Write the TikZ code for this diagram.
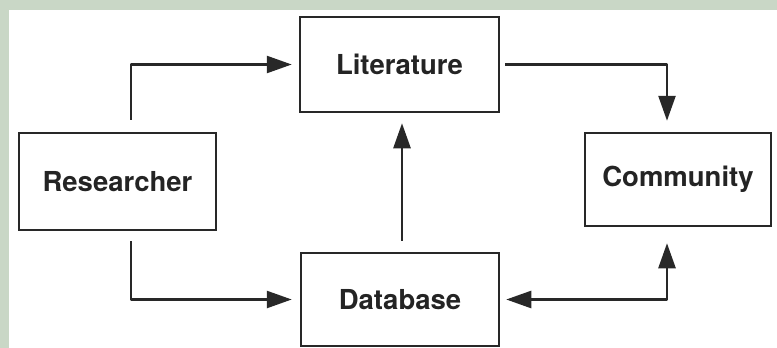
\documentclass[tikz,border=0pt]{standalone}
\usepackage{fontspec}
\setmainfont{TeX Gyre Heros}
\usetikzlibrary{arrows.meta}
\definecolor{frame}{RGB}{201,215,198}
\definecolor{ink}{RGB}{40,40,40}
\tikzset{
  box/.style={draw=ink, line width=2.5pt, fill=white, inner sep=0pt,
    font=\fontsize{27.5}{30}\selectfont\bfseries, text=ink!90!black},
  arr/.style={draw=ink, line width=2.5pt, line join=round,
    -{Triangle[length=25pt,width=17pt]}},
  darr/.style={arr, {Triangle[length=25pt,width=17pt]}-{Triangle[length=25pt,width=17pt]}}
}
\begin{document}
\begin{tikzpicture}[x=1pt,y=-1pt]
  \useasboundingbox (0,0) rectangle (777,348);
  % page background with the tinted frame along the top and left edges
  \fill[frame] (0,0) rectangle (777,348);
  \fill[white] (9,10) rectangle (777,348);

  % boxes
  \node[box, minimum width=197pt, minimum height=97pt] (res) at (117.5,181.5) {Researcher};
  \node[box, minimum width=199pt, minimum height=95pt] (lit) at (399.5,64.5) {Literature};
  \node[box, minimum width=186pt, minimum height=93pt] (com) at (678,179.5) {Community};
  \node[box, minimum width=198pt, minimum height=93pt] (db)  at (400,299.5) {Database};

  % connectors
  \draw[arr, shorten <=12pt, shorten >=7pt]
    ([xshift=13.5pt]res.north) |- (lit.west);
  \draw[arr, shorten <=10pt, shorten >=8pt]
    ([xshift=13.5pt]res.south) |- (db.west);
  \draw[arr, shorten <=11pt, shorten >=10pt]
    ([xshift=2pt]db.north) -- ([xshift=2pt]db.north |- lit.south);
  \draw[arr, shorten <=5pt, shorten >=11pt]
    (lit.east) -| ([xshift=-11pt]com.north);
  \draw[darr, shorten <=6pt, shorten >=16pt]
    (db.east) -| ([xshift=-11pt]com.south);
\end{tikzpicture}
\end{document}
